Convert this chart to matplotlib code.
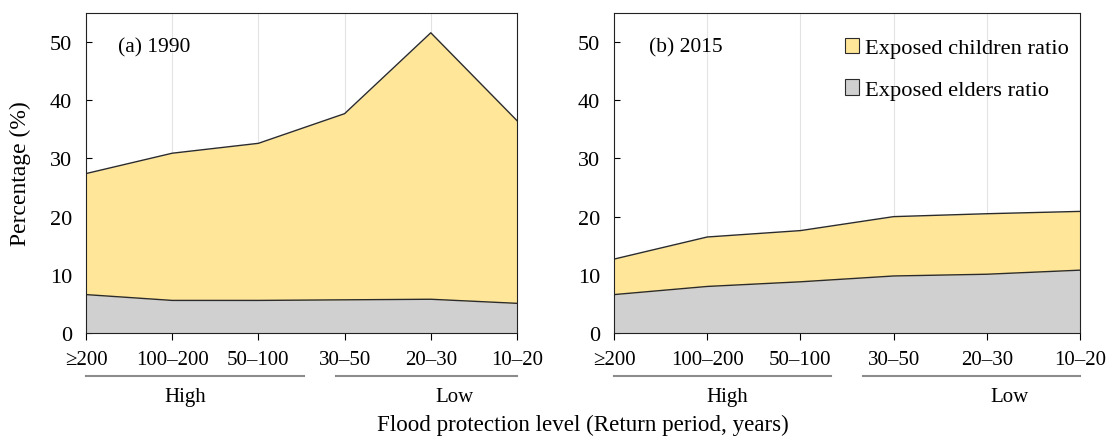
import matplotlib
matplotlib.use("Agg")
import matplotlib.pyplot as plt
from matplotlib.patches import Patch
import numpy as np

plt.rcParams['font.family'] = ['Liberation Serif', 'DejaVu Serif']

categories = ["≥200", "100–200", "50–100", "30–50", "20–30", "10–20"]
years = ["(a) 1990", "(b) 2015"]

# Exposed elders ratio (%)
elders_1990 = [6.6, 5.6, 5.6, 5.7, 5.8, 5.1]
elders_2015 = [6.6, 8.0, 8.8, 9.8, 10.1, 10.8]
# Exposed children ratio (%), stacked on top of the elders
children_1990 = [20.8, 25.3, 27.0, 32.0, 45.8, 31.4]
children_2015 = [6.1, 8.5, 8.8, 10.2, 10.4, 10.1]

groups = ["High", "Low"]

yellow = "#FFE699"
grey = "#D0D0D0"
edge = "#2b2b2b"

fig = plt.figure(figsize=(11.11, 4.39), dpi=100)
ax1 = fig.add_axes([86/1111, 1-334/439, 431/1111, 320/439])
ax2 = fig.add_axes([614/1111, 1-334/439, 466/1111, 320/439])

panels = [
    (ax1, elders_1990, children_1990, years[0], [(0, 2.53), (2.9, 5)], [1.15, 4.28]),
    (ax2, elders_2015, children_2015, years[1], [(0, 2.33), (2.67, 5)], [1.21, 4.24]),
]

x = np.arange(len(categories))
for ax, eld, chi, title, spans, gx in panels:
    eld = np.array(eld)
    tot = eld + np.array(chi)
    ax.fill_between(x, 0, eld, color=grey, lw=0, zorder=2)
    ax.fill_between(x, eld, tot, color=yellow, lw=0, zorder=2)
    ax.plot(x, eld, color=edge, lw=1.0, zorder=3)
    ax.plot(x, tot, color=edge, lw=1.0, zorder=3)
    ax.set_xlim(0, 5)
    ax.set_ylim(0, 55)
    ax.set_yticks([0, 10, 20, 30, 40, 50])
    ax.set_xticks(x)
    ax.set_xticklabels(categories)
    ax.tick_params(axis='y', direction='in', length=4, width=0.8,
                   labelsize=16, pad=10)
    ax.tick_params(axis='x', direction='out', length=5, width=0.8,
                   labelsize=15, pad=7)
    for xv in x[1:-1]:
        ax.axvline(xv, color="#e3e3e3", lw=0.8, zorder=1)
    for s in ax.spines.values():
        s.set_linewidth(0.8)
        s.set_color("#222222")
        s.set_zorder(4)
    ax.text(0.075, 0.895, title, transform=ax.transAxes, fontsize=15.5,
            va='center', ha='left')
    # group brackets under the tick labels
    for (a, b), gxx, name in zip(spans, gx, groups):
        ax.plot([a, b], [-0.134, -0.134], transform=ax.get_xaxis_transform(),
                color="#8c8c8c", lw=1.5, clip_on=False)
        ax.text(gxx, -0.2, name, transform=ax.get_xaxis_transform(),
                fontsize=15, ha='center', va='center')

ax1.set_ylabel("Percentage (%)", fontsize=17)
ax1.yaxis.set_label_coords(-0.128, 0.5)

handles = [Patch(facecolor=yellow, edgecolor=edge, lw=0.8, label="Exposed children ratio"),
           Patch(facecolor=grey, edgecolor=edge, lw=0.8, label="Exposed elders ratio")]
ax2.legend(handles=handles, loc='upper right', frameon=False, fontsize=16.2,
           handlelength=0.65, handleheight=0.65, handletextpad=0.25,
           labelspacing=0.95, bbox_to_anchor=(1.005, 0.965), borderaxespad=0.2)

fig.text(583/1111, 1-425/439, "Flood protection level (Return period, years)",
         fontsize=16.6, ha='center', va='center')

fig.savefig("out.png", dpi=100)
